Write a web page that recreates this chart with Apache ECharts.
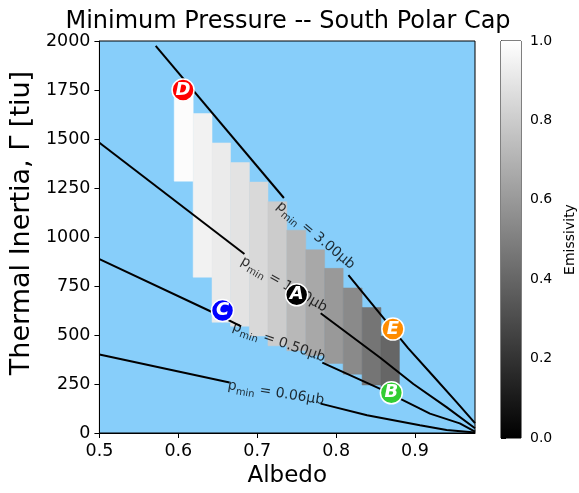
<!DOCTYPE html>
<html><head><meta charset="utf-8">
<script src="https://cdn.jsdelivr.net/npm/echarts@6/dist/echarts.min.js"></script>
<style>html,body{margin:0;padding:0;background:#fff}#c{width:579px;height:493px}</style>
</head><body><div id="c"></div>
<script>
// ---- data ----
const albedoEdges = [0.5948, 0.6188, 0.6427, 0.6661, 0.6901, 0.7136, 0.7375, 0.7615, 0.7854, 0.8089, 0.8329, 0.8568, 0.8802];
const tiTop    = [1730, 1630, 1480, 1380, 1280, 1180, 1035, 935, 840, 740, 640, 495];
const tiBottom = [1285,  795,  565,  545,  495,  445,  420, 395, 355, 300, 245, 230];
const emissivity = [0.99, 0.95, 0.92, 0.89, 0.85, 0.80, 0.72, 0.66, 0.60, 0.54, 0.46, 0.40];

const contour300 = [[0.5713,1975],[0.7338,1199],null,[0.8156,806],[0.8912,433],[0.9227,292],[0.9529,156],[0.9760,50]];
const contour100 = [[0.5,1481],[0.6838,913],null,[0.7804,611],[0.8559,384],[0.8979,250],[0.9399,132],[0.9760,24]];
const contour050 = [[0.5,887],[0.646,611],[0.6796,544],null,[0.7825,359],[0.8559,225],[0.9063,124],[0.9189,99],[0.9567,49],[0.9760,7]];
const contour006 = [[0.5,401],[0.6649,258],null,[0.7803,150],[0.8392,91],[0.9062,40],[0.94,15],[0.9760,3]];
const contourValues = ['3.00', '1.00', '0.50', '0.06'];
const contourLabelAlbedo = [0.774, 0.7338, 0.7275, 0.7237];
const contourLabelTI = [1008, 758, 463, 204];

const pointNames  = ['A', 'B', 'C', 'D', 'E'];
const pointAlbedo = [0.750, 0.870, 0.656, 0.606, 0.872];
const pointTI     = [705, 205, 625, 1750, 530];

const xTicks = [0.5, 0.6, 0.7, 0.8, 0.9];
const xMax = 0.976;
const yTicks = [0, 250, 500, 750, 1000, 1250, 1500, 1750, 2000];
const cbTicks = [0.0, 0.2, 0.4, 0.6, 0.8, 1.0];

// ---- styles ----
const FONT = 'DejaVu Sans';
const pointColors = ['#000000', '#32cd32', '#0000ff', '#ff0000', '#ff8c00'];
const labelRotation = [-40, -30, -19, -9];

const chart = echarts.init(document.getElementById('c'), null, {renderer: 'canvas'});

function splitSegments(arr) {
  const segs = []; let cur = [];
  arr.forEach(p => { if (p === null) { if (cur.length) segs.push(cur); cur = []; } else cur.push(p); });
  if (cur.length) segs.push(cur);
  return segs;
}

const series = [];
// cells
series.push({
  type: 'custom', xAxisIndex: 0, yAxisIndex: 0, z: 1, silent: true,
  data: emissivity.map((e, i) => [albedoEdges[i], albedoEdges[i + 1], tiBottom[i], tiTop[i], e]),
  renderItem: (params, api) => {
    const p0 = api.coord([api.value(0), api.value(3)]);
    const p1 = api.coord([api.value(1), api.value(2)]);
    const g = Math.round(api.value(4) * 255);
    const c = 'rgb(' + g + ',' + g + ',' + g + ')';
    return {type: 'rect', shape: {x: p0[0], y: p0[1], width: p1[0] - p0[0], height: p1[1] - p0[1]},
            style: {fill: c, stroke: c, lineWidth: 0.5}};
  }
});
// contour lines
[contour300, contour100, contour050, contour006].forEach(c => {
  splitSegments(c).forEach(seg => {
    series.push({type: 'line', xAxisIndex: 0, yAxisIndex: 0, z: 2, silent: true, data: seg,
      showSymbol: false, symbol: 'none', clip: true, lineStyle: {color: '#000', width: 2}});
  });
});
// contour labels
series.push({
  type: 'scatter', xAxisIndex: 0, yAxisIndex: 0, z: 3, silent: true, symbolSize: 0,
  data: contourValues.map((v, i) => ({value: [contourLabelAlbedo[i], contourLabelTI[i]], name: v,
    label: {rotate: labelRotation[i]}})),
  label: {
    show: true, position: 'inside', color: '#000',
    formatter: p => '{m|p}{s|min}{m| = ' + p.name + 'μb}',
    rich: {
      m: {fontFamily: FONT, fontSize: 14, color: '#000', lineHeight: 20, verticalAlign: 'middle'},
      s: {fontFamily: FONT, fontSize: 10, color: '#000', lineHeight: 10, verticalAlign: 'bottom'}
    }
  }
});
// markers
series.push({
  type: 'scatter', xAxisIndex: 0, yAxisIndex: 0, z: 4, silent: true, symbol: 'circle', symbolSize: 22,
  data: pointNames.map((n, i) => ({value: [pointAlbedo[i], pointTI[i]], name: n,
    itemStyle: {color: pointColors[i], borderColor: '#fff', borderWidth: 1.5, opacity: 1}})),
  label: {show: true, position: 'inside', formatter: '{b}', color: '#fff', fontFamily: FONT,
    fontSize: 18, fontWeight: 'bold', fontStyle: 'italic'}
});
// colorbar
series.push({
  type: 'custom', xAxisIndex: 1, yAxisIndex: 1, z: 1, silent: true, data: [[0, 0]],
  renderItem: (params, api) => {
    const p0 = api.coord([0, cbTicks[cbTicks.length - 1]]);
    const p1 = api.coord([1, cbTicks[0]]);
    return {type: 'rect', shape: {x: p0[0], y: p0[1], width: p1[0] - p0[0], height: p1[1] - p0[1]},
      style: {fill: {type: 'linear', x: 0, y: 0, x2: 0, y2: 1,
        colorStops: [{offset: 0, color: '#ffffff'}, {offset: 1, color: '#000000'}]}}};
  }
});

const axisLabelStyle = {color: '#000', fontFamily: FONT, fontSize: 17.5};
chart.setOption({
  animation: false,
  backgroundColor: '#fff',
  title: {text: 'Minimum Pressure -- South Polar Cap', left: 283, top: 5, textAlign: 'center',
    textStyle: {fontFamily: FONT, fontSize: 24, fontWeight: 'normal', color: '#000'}},
  grid: [
    {left: 97, top: 41, width: 378, height: 397, show: true, backgroundColor: '#87CEFA',
     borderColor: '#000', borderWidth: 1, containLabel: false},
    {left: 501, top: 41, width: 20, height: 397, show: true, borderColor: '#000', borderWidth: 1}
  ],
  xAxis: [
    {type: 'value', gridIndex: 0, min: xTicks[0], max: xMax, interval: 0.1,
     name: 'Albedo', nameLocation: 'middle', nameGap: 32,
     nameTextStyle: {fontFamily: FONT, fontSize: 23, color: '#000'},
     axisLine: {show: true, lineStyle: {color: '#000', width: 1}},
     axisTick: {show: true, length: 5, lineStyle: {color: '#000'}, customValues: xTicks},
     axisLabel: Object.assign({margin: 9, customValues: xTicks, formatter: v => v.toFixed(1)}, axisLabelStyle),
     splitLine: {show: false}},
    {type: 'value', gridIndex: 1, min: 0, max: 1, show: false}
  ],
  yAxis: [
    {type: 'value', gridIndex: 0, min: yTicks[0], max: yTicks[yTicks.length - 1], interval: 250,
     name: 'Thermal Inertia, Γ [tiu]', nameLocation: 'middle', nameGap: 53, nameRotate: 90,
     nameTextStyle: {fontFamily: FONT, fontSize: 27, color: '#000', padding: [0, 0, 0, 28]},
     axisLine: {show: true, lineStyle: {color: '#000', width: 1}},
     axisTick: {show: true, length: 5, lineStyle: {color: '#000'}},
     axisLabel: Object.assign({margin: 9, formatter: v => String(v)}, axisLabelStyle),
     splitLine: {show: false}},
    {type: 'value', gridIndex: 1, position: 'right', min: cbTicks[0], max: cbTicks[cbTicks.length - 1], interval: 0.2,
     name: 'Emissivity', nameLocation: 'middle', nameGap: 42, nameRotate: 90,
     nameTextStyle: {fontFamily: FONT, fontSize: 14, color: '#000'},
     axisLine: {show: true, lineStyle: {color: '#000', width: 1}},
     axisTick: {show: true, length: 5, lineStyle: {color: '#000'}},
     axisLabel: {margin: 9, color: '#000', fontFamily: FONT, fontSize: 14, formatter: v => v.toFixed(1)},
     splitLine: {show: false}}
  ],
  series: series
});
</script></body></html>
